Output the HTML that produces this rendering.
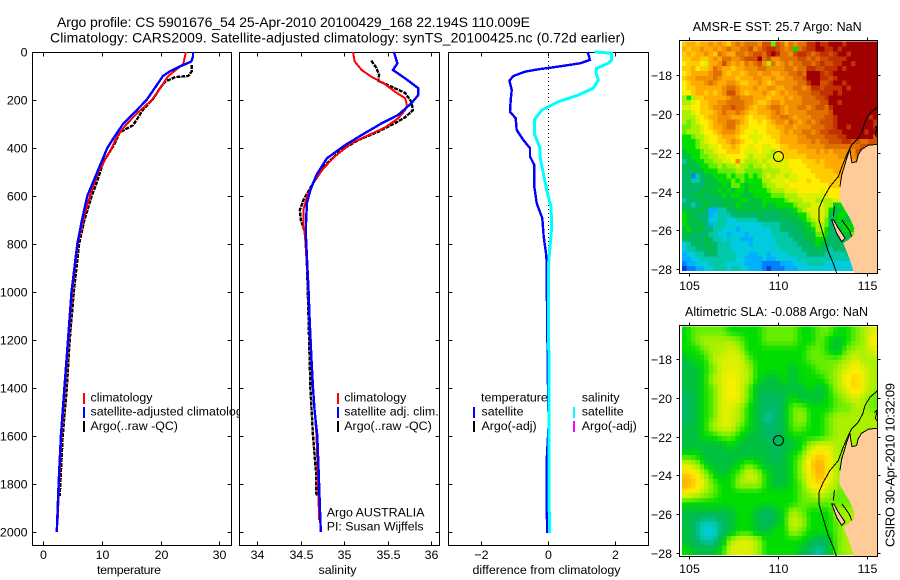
<!DOCTYPE html>
<html>
<head>
<meta charset="utf-8">
<title>Argo profile</title>
<style>
html,body{margin:0;padding:0;background:#fff;}
svg{display:block;}
text{font-family:"Liberation Sans",sans-serif;font-size:12.4px;fill:#000;}
.title{font-size:14px;}
.maptitle{font-size:12.5px;}
.stamp{font-size:13px;}
</style>
</head>
<body>
<svg id="fig" xmlns="http://www.w3.org/2000/svg" width="900" height="580" viewBox="0 0 900 580">
<defs>
<clipPath id="clip-p1"><rect x="32" y="52" width="207" height="493"/></clipPath>
<clipPath id="clip-m1"><rect x="679.5" y="40.5" width="198" height="233"/></clipPath>
<clipPath id="clip-m2"><rect x="679.5" y="325.5" width="198" height="231"/></clipPath>
</defs>
<rect width="900" height="580" fill="#fff"/>

<text class="title" x="57" y="27" textLength="473" lengthAdjust="spacing">Argo profile: CS 5901676_54 25-Apr-2010 20100429_168 22.194S 110.009E</text>
<text class="title" x="50" y="42.5" textLength="575" lengthAdjust="spacing">Climatology: CARS2009. Satellite-adjusted climatology: synTS_20100425.nc (0.72d earlier)</text>

<g id="layer-p1"></g>
<g id="layer-p2"></g>
<g id="layer-p3"></g>
<g id="layer-m1"></g>
<g id="layer-m2"></g>

<g>
<rect x="83" y="393" width="2" height="11" fill="#f00"/>
<rect x="83" y="407" width="2" height="11" fill="#00f"/>
<rect x="83" y="421" width="2" height="11" fill="#000"/>
<text x="90.5" y="401.5">climatology</text>
<text x="90.5" y="415.5" clip-path="url(#clip-p1)">satellite-adjusted climatology</text>
<text x="90.5" y="430">Argo(..raw -QC)</text>
</g>
<g>
<rect x="337" y="393" width="2" height="11" fill="#f00"/>
<rect x="337" y="407" width="2" height="11" fill="#00f"/>
<rect x="337" y="421" width="2" height="11" fill="#000"/>
<text x="344.3" y="401.5">climatology</text>
<text x="344.3" y="415.5">satellite adj. clim.</text>
<text x="344.3" y="430">Argo(..raw -QC)</text>
<text x="326.7" y="516.5">Argo AUSTRALIA</text>
<text x="326.7" y="530.5">PI: Susan Wijffels</text>
</g>
<g>
<text x="481" y="401.5">temperature</text>
<rect x="473" y="407" width="2" height="11" fill="#00f"/>
<rect x="473" y="421" width="2" height="11" fill="#000"/>
<text x="481.5" y="415.5">satellite</text>
<text x="481.5" y="430">Argo(-adj)</text>
<text x="581.7" y="401.5">salinity</text>
<rect x="573" y="407" width="2" height="11" fill="#0ff"/>
<rect x="573" y="421" width="2" height="11" fill="#f0f"/>
<text x="581.7" y="415.5">satellite</text>
<text x="581.7" y="430">Argo(-adj)</text>
</g>

<text x="97" y="574" textLength="64" lengthAdjust="spacing">temperature</text>
<text x="318.5" y="574" textLength="38" lengthAdjust="spacing">salinity</text>
<text x="472.5" y="574" textLength="148" lengthAdjust="spacing">difference from climatology</text>
<text class="maptitle" x="692.7" y="31" textLength="169" lengthAdjust="spacing">AMSR-E SST: 25.7 Argo: NaN</text>
<text class="maptitle" x="685" y="316" textLength="183" lengthAdjust="spacing">Altimetric SLA: -0.088 Argo: NaN</text>
<text class="stamp" transform="translate(894.5,547) rotate(-90)" x="0" y="0" textLength="164" lengthAdjust="spacing">CSIRO 30-Apr-2010 10:32:09</text>
</svg>

<script>
/* ---------- temperature panel data ---------- */
const tempTicks = [0, 10, 20, 30];
const salTicks = [34, 34.5, 35, 35.5, 36];
const salTickLabels = ["34", "34.5", "35", "35.5", "36"];
const diffTicks = [-2, 0, 2];
const diffTickLabels = ["\u22122", "0", "2"];
const depthTicks = [0, 200, 400, 600, 800, 1000, 1200, 1400, 1600, 1800, 2000];

const tempClimDepth = [0, 50, 100, 150, 200, 250, 300, 350, 400, 500, 600, 700, 800, 1000, 1200, 1400, 1600, 1800, 1950];
const tempClimValue = [24.3, 23.85, 21.3, 19.9, 18.5, 16.2, 14.2, 12.6, 11.65, 9.35, 7.95, 6.8, 5.9, 4.9, 4.3, 3.7, 3.1, 2.7, 2.45];
const tempSatDepth = [0, 20, 40, 60, 80, 100, 150, 200, 250, 300, 350, 400, 500, 600, 700, 800, 1000, 1200, 1400, 1600, 1800, 2000];
const tempSatValue = [25.5, 25.5, 25.2, 23.3, 21.6, 20.4, 19, 17.6, 15.6, 13.6, 12.2, 10.9, 9.2, 7.5, 6.6, 5.8, 4.8, 4.2, 3.6, 3, 2.6, 2.3];
const tempArgoDepth = [55, 80, 100, 105, 125, 150, 195, 240, 305, 335, 380, 460, 545, 600, 700, 800, 1000, 1200, 1400, 1600, 1800, 1850];
const tempArgoValue = [25.3, 25.3, 24.7, 22.4, 20.7, 19.9, 18.7, 17, 15.3, 13, 12.2, 10.2, 9.1, 8.25, 7, 6.1, 5.2, 4.5, 4, 3.3, 2.9, 2.8];

/* ---------- salinity panel data ---------- */
const salClimDepth = [0, 40, 75, 103, 130, 165, 193, 221, 242, 276, 314, 346, 380, 436, 485, 547, 603, 658, 714, 775, 1000, 1400, 1600, 1800, 1950];
const salClimValue = [35.1, 35.12, 35.2, 35.31, 35.45, 35.58, 35.7, 35.72, 35.7, 35.62, 35.47, 35.28, 35.08, 34.89, 34.76, 34.64, 34.57, 34.53, 34.53, 34.55, 34.59, 34.64, 34.68, 34.7, 34.71];
const salSatDepth = [0, 47, 75, 110, 151, 179, 214, 262, 297, 346, 388, 443, 512, 575, 630, 714, 775, 1000, 1200, 1400, 1500, 1600, 1700, 1800, 1900, 2000];
const salSatValue = [35.57, 35.61, 35.56, 35.7, 35.85, 35.85, 35.77, 35.62, 35.43, 35.2, 35.01, 34.8, 34.68, 34.61, 34.57, 34.56, 34.56, 34.59, 34.61, 34.64, 34.66, 34.69, 34.7, 34.71, 34.72, 34.73];
const salArgoDepth = [36, 67, 96, 120, 144, 171, 207, 242, 272, 297, 332, 367, 408, 471, 547, 617, 658, 700, 742, 775, 1000, 1400, 1600, 1750, 1850];
const salArgoValue = [35.31, 35.37, 35.4, 35.39, 35.54, 35.7, 35.77, 35.79, 35.7, 35.58, 35.39, 35.16, 34.97, 34.78, 34.64, 34.53, 34.49, 34.5, 34.54, 34.56, 34.58, 34.61, 34.64, 34.675, 34.68];

/* ---------- difference panel data ---------- */
const diffTempDepth = [0, 33, 47, 61, 72, 82, 100, 120, 158, 200, 249, 276, 325, 367, 401, 436, 471, 561, 630, 693, 770, 838, 875, 950, 1400, 1550, 1700, 1900, 2005];
const diffTempValue = [1.19, 1.26, 0.96, 0.31, -0.29, -0.69, -1.04, -1.16, -1.09, -1.12, -1.14, -0.97, -0.94, -0.74, -0.54, -0.54, -0.41, -0.41, -0.34, -0.17, -0.13, -0.06, -0.04, -0.04, 0, 0.02, -0.04, -0.04, -0.02];
const diffSalDepth = [0, 5, 33, 47, 68, 88, 117, 151, 179, 207, 242, 283, 339, 401, 436, 505, 575, 645, 728, 811, 895, 950, 1400, 2005];
const diffSalValue = [1.4, 1.91, 1.91, 1.81, 1.46, 1.44, 1.51, 1.36, 0.91, 0.31, -0.19, -0.41, -0.41, -0.24, -0.24, -0.14, -0.04, 0.09, 0.11, 0.06, 0.01, 0.01, 0.03, 0.04];

/* ---------- map data ---------- */
const mapLonTicks = [105, 110, 115];
const mapLatTicks = [-18, -20, -22, -24, -26, -28];
const profileLon = [110.009];
const profileLat = [-22.194];
const colorLevels = ["#0040d8","#0080ff","#00b0ff","#00ccdd","#00c8a8","#00b868","#00c040","#00dd00","#66ee00","#aaf000","#ddf000","#ffee00","#ffcc00","#ffaa00","#f09000","#e07000","#d05000","#c03000","#a00000"];

const sstLevels = [
[12,13,13,12,13,13,14,13,14,13,12,14,15,14,15,15,15,14,16,16,8,16,15,13,15,14,15,15,17,17,18,17,17,18,18,18,17,18,18,18,18,18,18,18],
[13,12,13,13,14,13,13,14,13,14,15,14,14,15,15,16,14,15,16,17,17,16,15,14,15,7,15,16,17,17,18,18,17,17,18,17,18,18,18,18,18,18,18,18],
[12,13,12,13,13,14,13,12,15,14,13,13,15,15,14,15,16,16,15,17,18,17,15,15,14,16,17,17,16,15,16,17,17,16,17,18,18,17,18,18,18,18,18,18],
[12,12,13,13,12,12,13,14,13,15,15,14,14,15,16,16,16,18,15,16,14,14,15,15,15,15,16,16,15,16,15,16,16,17,17,17,17,18,18,18,18,18,18,18],
[11,12,12,12,11,10,13,13,14,16,14,13,14,13,15,14,15,16,14,9,15,13,14,15,14,15,15,16,16,15,16,17,16,16,17,17,18,18,17,18,18,18,18,18],
[12,12,13,11,12,12,13,15,14,13,13,12,13,13,14,14,14,15,15,14,14,14,14,15,15,14,15,15,17,17,16,16,17,17,17,18,17,18,18,18,18,18,18,18],
[11,12,13,13,13,13,14,15,15,13,12,13,13,12,13,14,14,13,14,14,13,13,14,14,15,15,16,15,18,18,18,17,16,17,18,18,18,18,18,18,18,18,18,18],
[12,13,13,14,14,14,14,15,14,13,13,13,12,13,13,13,14,14,13,13,14,13,13,14,14,15,15,16,18,18,18,17,17,16,17,18,18,18,18,18,18,18,18,18],
[11,12,13,13,13,14,15,14,13,13,14,14,13,12,12,13,13,14,13,12,13,14,14,14,14,14,15,15,17,18,18,16,16,17,18,18,17,18,18,18,18,18,18,18],
[11,12,12,13,13,13,13,13,13,14,15,15,14,13,13,13,14,13,13,14,14,13,13,14,14,15,15,14,15,17,17,16,17,17,17,17,18,17,18,18,18,18,18,18],
[11,11,12,13,13,12,13,12,13,14,16,16,14,13,12,13,13,13,14,13,12,13,14,13,14,14,15,15,15,16,16,17,17,17,18,17,18,18,18,18,18,18,18,18],
[9,7,9,12,12,13,13,13,13,13,14,15,15,14,14,14,13,13,13,12,13,13,13,14,13,14,14,15,15,15,16,16,17,18,18,18,18,18,18,18,18,18,18,18],
[9,9,10,11,12,12,13,13,14,14,15,15,15,15,14,14,13,12,12,13,14,14,13,14,14,14,14,15,15,15,15,16,16,18,18,17,18,18,18,18,18,18,18,18],
[10,10,11,11,12,12,13,14,14,15,15,16,15,15,14,13,12,13,13,14,15,15,14,13,14,14,15,15,14,15,16,16,15,17,18,18,18,18,18,18,18,18,18,18],
[9,9,10,11,12,12,12,13,14,15,14,14,15,14,13,12,12,13,13,13,14,15,14,13,14,14,14,14,15,15,15,15,15,16,18,18,18,18,18,18,18,18,18,18],
[9,9,9,10,11,12,13,13,14,14,14,13,13,13,12,11,12,12,12,13,14,14,15,15,14,13,14,14,14,15,15,15,16,16,17,18,18,18,18,18,18,18,17,18],
[9,8,9,10,11,11,12,13,14,14,15,15,14,13,12,11,11,12,11,12,13,14,14,13,15,14,13,14,15,14,15,16,16,16,17,18,18,18,18,18,18,18,18,17],
[8,8,9,9,10,11,12,13,13,14,15,15,13,12,12,11,11,11,11,12,12,13,13,14,14,13,14,14,14,15,15,15,16,16,17,18,18,17,18,18,18,18,18,17],
[8,9,9,9,10,11,11,12,13,14,14,14,13,12,11,11,10,11,11,12,12,12,13,14,13,14,14,15,15,14,15,16,16,17,17,17,18,18,18,18,18,17,18,18],
[7,7,8,9,9,10,11,11,12,13,13,13,12,11,11,10,10,10,11,11,12,12,13,13,13,13,14,14,15,15,15,15,16,16,16,17,17,18,18,18,18,18,18,16],
[7,7,7,8,9,10,11,11,12,12,13,14,13,12,11,11,10,11,11,11,11,12,13,13,13,13,14,14,14,15,14,15,15,16,16,16,17,17,16,16,15,15,16,16],
[7,7,7,8,9,9,10,10,11,12,12,13,12,11,11,10,11,11,10,10,11,11,12,12,13,13,13,13,14,14,14,14,15,15,15,15,15,15,15,15,16,16,16,16],
[6,7,7,7,8,9,9,10,11,11,12,12,12,11,10,10,10,11,10,10,9,11,12,12,12,12,13,13,13,13,14,13,14,13,14,14,14,14,14,16,16,16,16,16],
[6,6,7,7,8,8,9,9,10,10,11,11,11,11,10,9,10,10,10,9,10,10,11,12,12,12,12,12,13,13,13,13,13,13,13,14,14,14,14,15,16,16,16,16],
[4,6,6,7,7,8,8,9,9,10,10,11,14,10,9,9,9,10,9,10,10,10,10,10,11,11,11,12,12,12,13,12,13,13,13,13,13,13,13,15,16,16,15,15],
[5,6,6,6,7,7,8,8,9,8,9,9,10,9,9,8,9,9,10,9,10,10,10,10,11,11,11,11,12,12,12,12,13,13,13,13,13,13,13,13,13,13,13,13],
[6,5,6,6,6,7,7,7,8,8,8,8,9,9,8,8,8,8,9,9,9,9,10,10,10,11,11,11,11,12,12,12,12,12,13,13,13,13,13,13,13,13,13,13],
[5,6,1,4,5,6,6,7,7,7,8,7,8,8,7,8,7,8,9,10,9,10,10,9,10,10,11,11,11,11,12,12,12,12,12,13,13,13,13,13,13,13,13,13],
[5,5,4,4,5,6,6,6,7,7,7,8,7,8,7,7,7,7,9,9,10,10,10,11,10,10,11,11,12,11,11,12,12,12,12,12,13,13,13,13,13,13,13,13],
[5,6,5,5,5,6,6,6,6,7,6,8,8,7,6,7,7,7,8,9,9,10,10,10,11,11,11,11,11,11,11,11,11,12,12,12,12,13,13,13,13,13,13,13],
[5,5,5,5,6,6,6,6,7,6,7,6,7,7,6,7,7,7,7,8,9,9,9,10,10,10,11,11,11,11,11,10,11,11,11,11,12,12,12,12,12,12,12,12],
[5,5,6,6,6,5,6,6,6,7,6,7,7,6,6,6,7,7,7,7,8,8,8,9,9,9,10,10,10,10,10,10,10,11,11,11,11,7,7,7,7,7,7,7],
[4,5,5,5,6,6,5,5,6,6,6,6,6,7,7,6,6,6,7,7,7,7,7,8,9,9,9,10,10,10,9,9,9,9,10,10,7,7,6,6,6,6,6,6],
[5,5,4,5,5,6,6,5,5,6,6,6,7,6,6,6,6,6,7,6,6,7,7,7,7,8,9,9,9,10,10,10,9,9,6,7,7,7,7,6,6,6,6,6],
[6,6,5,6,6,5,2,2,4,4,5,5,6,6,6,6,6,6,6,6,6,6,6,6,6,7,8,9,10,10,10,10,9,7,6,6,7,7,6,6,6,6,6,6],
[7,6,6,5,5,5,2,3,4,4,4,5,5,5,5,5,5,6,5,5,5,5,6,6,6,6,7,7,9,10,10,10,9,6,6,7,7,6,6,6,6,6,6,6],
[7,6,6,6,5,5,3,3,4,4,3,3,4,4,4,4,4,5,5,5,5,5,5,5,6,6,6,7,8,9,10,10,8,5,6,7,6,6,6,6,6,6,6,6],
[7,6,5,6,6,5,2,4,4,4,3,3,3,3,3,3,3,3,4,4,4,4,5,5,5,5,6,6,7,8,9,9,8,5,6,6,7,7,6,6,6,6,6,6],
[6,7,6,6,6,5,5,4,4,3,3,3,2,3,3,3,3,3,3,3,4,4,5,5,5,5,5,6,6,7,9,9,7,5,5,6,7,7,7,7,7,7,7,7],
[6,6,5,5,5,5,4,4,3,3,2,3,3,3,2,3,3,3,3,3,4,4,4,4,5,5,5,6,6,6,8,8,7,5,5,5,6,6,8,7,6,6,6,6],
[6,5,5,6,5,6,5,4,4,3,4,3,3,2,2,2,3,3,3,3,3,4,4,4,4,5,5,5,6,6,7,7,6,5,5,5,6,6,9,6,6,6,6,6],
[3,4,5,5,5,6,5,5,4,4,4,3,3,3,3,2,3,3,3,3,3,4,4,4,4,4,5,5,5,6,7,6,6,5,5,5,5,5,6,6,6,6,6,6],
[3,4,4,5,5,5,6,5,4,4,4,3,3,3,3,3,3,3,3,3,3,3,4,4,4,4,4,5,5,5,6,5,5,4,5,5,5,5,5,5,5,5,5,5],
[2,3,3,4,4,5,5,5,4,4,4,4,3,3,3,2,2,3,3,2,3,3,3,3,4,4,4,4,5,5,5,5,4,4,4,4,4,5,5,5,5,5,5,5],
[2,2,3,3,4,4,4,4,4,4,4,4,3,3,2,2,2,2,3,2,2,3,3,3,3,3,4,4,4,4,4,4,4,4,4,4,4,4,4,4,4,4,4,4],
[1,2,2,3,3,3,4,4,4,4,3,3,3,3,2,2,2,2,1,1,1,1,2,2,2,3,3,3,4,4,4,4,3,3,3,3,3,3,3,3,3,3,3,3],
[0,1,1,2,2,3,3,4,4,4,3,4,4,3,3,2,2,2,1,0,1,1,1,2,2,2,3,3,3,3,3,3,3,3,3,3,3,3,3,3,3,3,3,3]
];

const slaLevels = [
[7,8,8,8,8,7,7,7,7,8,8,8,8,7,7,8,8,7,7,8,9,10],
[7,8,9,9,9,9,8,7,7,8,8,8,8,7,7,8,7,6,7,8,9,11],
[7,7,8,9,9,10,9,7,7,7,7,7,7,7,8,8,7,6,8,9,9,10],
[6,7,7,9,10,10,10,8,7,7,7,7,7,7,8,8,8,8,9,10,9,9],
[6,6,7,8,10,10,10,9,7,7,7,7,6,7,7,8,8,9,10,11,10,9],
[6,6,7,9,10,11,10,9,7,6,6,7,6,7,7,7,8,9,11,12,10,9],
[6,6,7,8,10,11,10,8,6,6,6,6,6,6,7,6,7,9,10,12,10,9],
[5,6,7,8,10,11,10,8,6,5,5,6,7,6,6,6,7,8,9,10,9,8],
[5,6,7,8,10,10,9,7,6,5,5,6,8,8,7,7,7,8,8,9,9,8],
[5,6,7,8,10,10,9,7,6,4,5,6,8,9,7,7,8,9,9,9,9,9],
[6,6,7,9,10,10,8,7,6,5,5,6,8,8,7,7,8,9,9,9,9,9],
[6,6,7,7,8,8,7,6,6,5,5,6,7,7,7,7,8,9,9,9,9,9],
[6,6,6,6,6,7,6,6,6,6,5,6,6,7,9,10,10,9,9,9,9,9],
[7,7,6,6,6,6,6,6,6,6,5,6,7,8,11,12,11,9,9,9,9,9],
[10,9,7,6,6,6,7,8,7,6,6,6,7,9,12,13,11,9,8,9,9,9],
[12,11,9,7,6,7,8,10,9,7,6,6,7,9,11,13,11,9,8,9,9,9],
[13,12,10,8,7,7,9,9,9,7,6,6,7,8,11,12,10,9,8,8,9,9],
[11,10,9,8,7,7,7,7,7,7,7,7,7,8,9,10,9,8,8,8,9,9],
[7,7,7,7,7,7,7,7,7,7,7,7,7,8,8,8,8,8,8,8,9,9],
[6,6,6,6,6,6,7,7,6,5,6,7,9,8,7,7,7,9,9,9,9,9],
[6,5,4,4,5,6,7,7,6,5,6,7,10,9,7,7,7,8,9,9,9,9],
[6,5,3,3,5,6,7,7,6,6,7,7,9,8,7,7,7,8,9,9,9,9],
[6,5,4,4,6,9,10,10,9,7,7,7,7,7,6,5,6,8,9,9,9,9],
[7,6,6,6,7,10,10,10,9,7,7,7,7,6,5,4,6,8,9,9,9,9]
];

const landLon = [115.58,115.06,114.68,114.49,114.40,114.14,114.08,114.03,113.84,113.71,113.56,113.46,113.43,113.75,114.03,114.27,114.25,113.93,113.65,113.84,114.03,114.21,114.31,115.58];
const landLat = [-21.56,-21.61,-21.82,-22.11,-22.46,-22.51,-22.20,-21.82,-22.29,-22.72,-23.15,-23.75,-24.44,-24.95,-25.38,-25.90,-26.24,-26.50,-26.67,-27.10,-27.54,-28.05,-28.31,-28.31];
const capeLon = [115.58,115.06,114.68,114.49,114.40,114.14,114.08,114.03,113.84,113.71,113.56,113.46];
const capeLat = [-21.56,-21.61,-21.82,-22.11,-22.46,-22.51,-22.20,-21.82,-22.29,-22.72,-23.15,-23.75];
const contourLon = [115.58,115.15,114.87,114.74,114.49,114.12,113.88,113.61,113.37,112.90,112.53,112.28,112.28,112.53,112.81,113.09,113.28];
const contourLat = [-19.62,-19.96,-20.39,-20.82,-21.25,-21.60,-22.03,-22.63,-23.23,-23.75,-24.35,-24.87,-25.47,-26.24,-27.10,-27.71,-28.22];
const islandLon = [113.0,113.12,113.37,113.75,113.56,113.28];
const islandLat = [-25.47,-25.47,-25.89,-26.41,-26.59,-26.16];
const bayLineLon = [113.15,113.09];
const bayLineLat = [-24.78,-25.30];
const bayEastLon = [113.56,113.84,114.03,114.12];
const bayEastLat = [-25.47,-25.81,-26.07,-26.33];
const reefLon = [115.40,115.58,115.45,115.58];
const reefLat = [-20.75,-20.60,-21.05,-21.20];

/* ---------- axis functions ---------- */
const NS = "http://www.w3.org/2000/svg";
const depthY = d => 52 + d * 0.24;
const tempX = t => 43.3 + t * 5.87;
const salX = s => 257.3 + (s - 34) * 87;
const diffX = v => 548 + v * 33.3;
const lonX = lon => 689.3 + (lon - 105) * 17.8;
const sstY = lat => 75.3 + (-18 - lat) * 19.37;
const slaY = lat => 359.3 + (-18 - lat) * 19.35;

function make(tag, parent, attrs) {
  const e = document.createElementNS(NS, tag);
  for (const k in attrs) e.setAttribute(k, attrs[k]);
  parent.appendChild(e);
  return e;
}

function levelColor(level) {
  const lo = Math.max(0, Math.min(colorLevels.length - 1, Math.floor(level)));
  const hi = Math.min(colorLevels.length - 1, lo + 1);
  const t = Math.max(0, Math.min(1, level - lo));
  if (t === 0) return colorLevels[lo];
  const parse = h => [1, 3, 5].map(i => parseInt(h.substr(i, 2), 16));
  const a = parse(colorLevels[lo]), b = parse(colorLevels[hi]);
  return "rgb(" + a.map((v, i) => Math.round(v + (b[i] - v) * t)).join(",") + ")";
}

function sampleLevel(rows, fr, fc) {
  const r = Math.max(0, Math.min(rows.length - 1, fr));
  const c = Math.max(0, Math.min(rows[0].length - 1, fc));
  const r0 = Math.floor(r), c0 = Math.floor(c);
  const r1 = Math.min(rows.length - 1, r0 + 1), c1 = Math.min(rows[0].length - 1, c0 + 1);
  const tr = r - r0, tc = c - c0;
  return (rows[r0][c0] * (1 - tc) + rows[r0][c1] * tc) * (1 - tr) + (rows[r1][c0] * (1 - tc) + rows[r1][c1] * tc) * tr;
}

function drawFrame(g, left, right, top, bottom) {
  const frame = make("rect", g, {x: left, y: top, width: right - left, height: bottom - top, fill: "none", stroke: "#000", "stroke-width": 1, "shape-rendering": "crispEdges"});
  
  
}

function drawTick(g, x1, y1, x2, y2) {
  const t = make("line", g, {x1: x1, y1: y1, x2: x2, y2: y2, stroke: "#000", "stroke-width": 1, "shape-rendering": "crispEdges"});
  
  
}

function drawLabel(g, x, y, str, anchor) {
  const t = make("text", g, {x: x, y: y, "text-anchor": anchor});
  t.textContent = str;
  
  
}

function drawSeries(g, xf, depths, values, color, width, dash, name) {
  const pts = depths.map((d, i) => xf(values[i]).toFixed(1) + "," + depthY(d).toFixed(1)).join(" ");
  const attrs = {points: pts, fill: "none", stroke: color, "stroke-width": width, "shape-rendering": "crispEdges"};
  if (dash) attrs["stroke-dasharray"] = dash;
  const line = make("polyline", g, attrs);
  
  
}

function drawProfileAxes(g, left, right, xf, ticks, labels) {
  const top = 52.5, bottom = 545.5;
  const bg = make("rect", g, {x: left, y: top, width: right - left, height: bottom - top, fill: "#fff"});
  
  
  ticks.forEach((v, i) => {
    const x = Math.round(xf(v)) + 0.5;
    drawTick(g, x, top, x, top + 4);
    drawTick(g, x, bottom, x, bottom - 4);
    drawLabel(g, x, 559, labels[i], "middle");
  });
  depthTicks.forEach(d => {
    const y = Math.round(depthY(d)) + 0.5;
    drawTick(g, left, y, left + 4, y);
    drawTick(g, right, y, right - 4, y);
  });
  drawFrame(g, left, right, top, bottom);
}

/* ---------- temperature panel ---------- */
const p1 = document.getElementById("layer-p1");
drawProfileAxes(p1, 32.5, 231.5, tempX, tempTicks, tempTicks.map(String));
depthTicks.forEach(d => drawLabel(p1, 27.5, depthY(d) + 4.5, String(d), "end"));
drawSeries(p1, tempX, tempArgoDepth, tempArgoValue, "#000", 2.4, "4 1", "argo-temperature-line");
drawSeries(p1, tempX, tempClimDepth, tempClimValue, "#f00", 2, null, "climatology-temperature-line");
drawSeries(p1, tempX, tempSatDepth, tempSatValue, "#00f", 2.4, null, "satellite-temperature-line");

/* ---------- salinity panel ---------- */
const p2 = document.getElementById("layer-p2");
drawProfileAxes(p2, 239.5, 439.5, salX, salTicks, salTickLabels);
drawSeries(p2, salX, salArgoDepth, salArgoValue, "#000", 2.4, "4 1", "argo-salinity-line");
drawSeries(p2, salX, salClimDepth, salClimValue, "#f00", 2, null, "climatology-salinity-line");
drawSeries(p2, salX, salSatDepth, salSatValue, "#00f", 2.4, null, "satellite-salinity-line");

/* ---------- difference panel ---------- */
const p3 = document.getElementById("layer-p3");
drawProfileAxes(p3, 448.5, 648.5, diffX, diffTicks, diffTickLabels);
const zero = make("line", p3, {x1: 548.5, y1: 53, x2: 548.5, y2: 533, stroke: "#000", "stroke-width": 1, "stroke-dasharray": "1 3", "shape-rendering": "crispEdges"});


drawSeries(p3, diffX, diffTempDepth, diffTempValue, "#00f", 2.4, null, "satellite-temperature-difference-line");
drawSeries(p3, diffX, diffSalDepth, diffSalValue, "#0ff", 3, null, "satellite-salinity-difference-line");

/* ---------- maps ---------- */
function drawMap(g, rows, yf, clipId, latTop, latBottom, frameTop, frameBottom, labelY, cellName, subdivide) {
  const lonLeft = 104.59, lonRight = 115.58;
  const dLon = (lonRight - lonLeft) / rows[0].length / subdivide;
  const dLat = (latTop - latBottom) / rows.length / subdivide;
  const clipped = make("g", g, {"clip-path": "url(#" + clipId + ")"});
  
  
  for (let r = 0; r < rows.length * subdivide; r++) {
    for (let c = 0; c < rows[0].length * subdivide; c++) {
      const level = sampleLevel(rows, (r + 0.5) / subdivide - 0.5, (c + 0.5) / subdivide - 0.5);
      const x0 = lonX(lonLeft + c * dLon), x1 = lonX(lonLeft + (c + 1) * dLon);
      const y0 = yf(latTop - r * dLat), y1 = yf(latTop - (r + 1) * dLat);
      const cell = make("rect", clipped, {x: x0.toFixed(2), y: y0.toFixed(2), width: (x1 - x0 + 0.3).toFixed(2), height: (y1 - y0 + 0.3).toFixed(2), fill: levelColor(level), "shape-rendering": "crispEdges"});
      
      
    }
  }
  const pts = (lons, lats) => lons.map((v, i) => lonX(v).toFixed(1) + "," + yf(lats[i]).toFixed(1)).join(" ");
  const land = make("polygon", clipped, {points: pts(landLon, landLat), fill: "#ffcc99", "shape-rendering": "crispEdges"});
  
  
  const island = make("polygon", clipped, {points: pts(islandLon, islandLat), fill: "#ffcc99", stroke: "#000", "stroke-width": 1, "shape-rendering": "crispEdges"});
  
  
  [[capeLon, capeLat, 'coastline'], [contourLon, contourLat, 'shelf-contour'], [bayLineLon, bayLineLat, 'bay-coastline'], [bayEastLon, bayEastLat, 'bay-east-coastline'], [reefLon, reefLat, 'reef-coastline']].forEach(item => {
    const line = make("polyline", clipped, {points: pts(item[0], item[1]), fill: "none", stroke: "#000", "stroke-width": 1, "shape-rendering": "crispEdges"});
    
    
  });
  const marker = make("circle", clipped, {cx: lonX(profileLon[0]), cy: yf(profileLat[0]), r: 5, fill: "none", stroke: "#000", "stroke-width": 1});
  
  
  const left = 679.5, right = 877.5;
  mapLonTicks.forEach(v => {
    const x = Math.round(lonX(v)) + 0.5;
    drawTick(g, x, frameTop, x, frameTop - 3);
    drawTick(g, x, frameBottom, x, frameBottom + 3);
    drawLabel(g, x, labelY, String(v), "middle");
  });
  mapLatTicks.forEach(v => {
    const y = Math.round(yf(v)) + 0.5;
    drawTick(g, left, y, left - 3, y);
    drawTick(g, right, y, right + 3, y);
    drawLabel(g, 672, y + 4.5, String(v).replace("-", "\u2212"), "end");
  });
  drawFrame(g, left, right, frameTop, frameBottom);
}

drawMap(document.getElementById("layer-m1"), sstLevels, sstY, "clip-m1", -16.265, -28.10, 40.5, 273.5, 290, "sst-cell", 1);
drawMap(document.getElementById("layer-m2"), slaLevels, slaY, "clip-m2", -16.315, -28.11, 325.5, 556.5, 573, "sla-cell", 2);
</script>
</body>
</html>
